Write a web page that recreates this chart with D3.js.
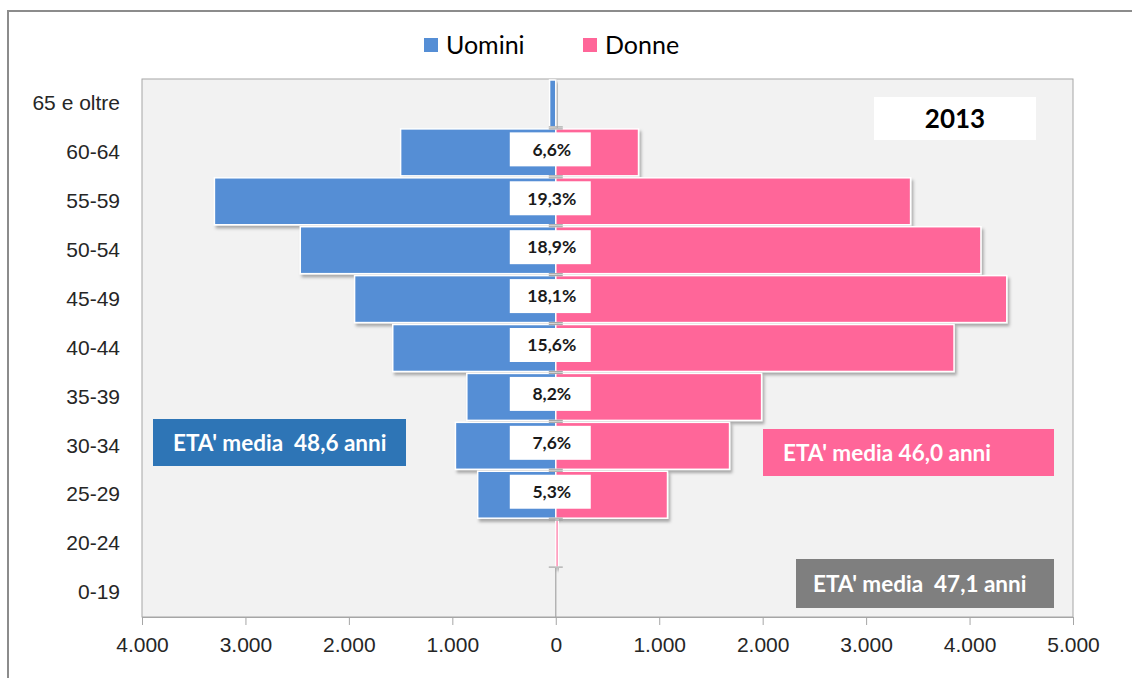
<!DOCTYPE html>
<html>
<head>
<meta charset="utf-8">
<script src="https://cdn.jsdelivr.net/npm/d3@7/dist/d3.min.js"></script>
<style>
  body { margin: 0; background: #fff; }
  svg { display: block; font-family: Lato, "Open Sans", sans-serif; }
</style>
</head>
<body>
<div id="chart"></div>
<script>
// age classes, top to bottom
var categories = ["65 e oltre", "60-64", "55-59", "50-54", "45-49", "40-44", "35-39", "30-34", "25-29", "20-24", "0-19"];
var uomini = [60, 1500, 3300, 2470, 1945, 1576, 860, 970, 755, 0, 0];
var donne = [0, 800, 3430, 4110, 4360, 3850, 1990, 1680, 1080, 25, 0];
var percentuali = ["", "6,6%", "19,3%", "18,9%", "18,1%", "15,6%", "8,2%", "7,6%", "5,3%", "", ""];
var xTicks = [-4000, -3000, -2000, -1000, 0, 1000, 2000, 3000, 4000, 5000];
var anno = "2013";
var etaUomini = "ETA' media  48,6 anni";
var etaDonne = "ETA' media 46,0 anni";
var etaTotale = "ETA' media  47,1 anni";

var width = 1132, height = 678;
var plot = {left: 142, right: 1073, top: 79, bottom: 617};
var blue = "#558ed5", pink = "#ff6699";

var svg = d3.select("#chart").append("svg")
    .attr("width", width)
    .attr("height", height);

// drop shadow like the excel bars
var defs = svg.append("defs");
var f = defs.append("filter").attr("id", "shadow")
    .attr("x", "-20%").attr("y", "-20%").attr("width", "140%").attr("height", "140%");
f.append("feDropShadow")
    .attr("dx", 2).attr("dy", 3).attr("stdDeviation", 1.8)
    .attr("flood-color", "#000").attr("flood-opacity", 0.3);

// outer chart frame
svg.append("rect")
    .attr("x", 8).attr("y", 11)
    .attr("width", 1140).attr("height", 700)
    .attr("fill", "#fff")
    .attr("stroke", "#8c8c8c")
    .attr("stroke-width", 2);

// plot area
svg.append("rect")
    .attr("x", plot.left).attr("y", plot.top)
    .attr("width", plot.right - plot.left).attr("height", plot.bottom - plot.top)
    .attr("fill", "#f2f2f2")
    .attr("stroke", "#a6a6a6")
    .attr("stroke-width", 1);

var x = d3.scaleLinear()
    .domain([-4000, 5000])
    .range([plot.left, plot.right]);

var y = d3.scaleBand()
    .domain(categories)
    .range([plot.top, plot.bottom])
    .paddingInner(0.04)
    .paddingOuter(0.02);

var it = d3.formatLocale({decimal: ",", thousands: ".", grouping: [3], currency: ["", "€"]});
var fmt = it.format(",.0f");

// x axis
var xAxis = svg.append("g")
    .attr("transform", "translate(0," + plot.bottom + ")")
    .call(d3.axisBottom(x)
        .tickValues(xTicks)
        .tickSize(8)
        .tickPadding(12)
        .tickFormat(function(d) { return fmt(Math.abs(d)); }));
xAxis.select(".domain").attr("stroke", "#a6a6a6");
xAxis.selectAll(".tick line").attr("stroke", "#a6a6a6");
xAxis.selectAll(".tick text")
    .attr("fill", "#262626")
    .style("font-size", "21px");

// y labels
var yAxis = svg.append("g")
    .attr("transform", "translate(" + plot.left + ",0)")
    .call(d3.axisLeft(y).tickSize(0).tickPadding(22));
yAxis.select(".domain").remove();
yAxis.selectAll(".tick text")
    .attr("fill", "#262626")
    .style("font-size", "21px");

// vertical zero line
svg.append("line")
    .attr("x1", x(0)).attr("x2", x(0))
    .attr("y1", plot.top).attr("y2", plot.bottom)
    .attr("stroke", "#a6a6a6")
    .attr("stroke-width", 1.2);

var rows = categories.map(function(c, i) {
    return {cat: c, m: uomini[i], w: donne[i], pct: percentuali[i]};
});

var bars = svg.append("g");

bars.selectAll(".bar-m")
    .data(rows.filter(function(d) { return d.m > 0; }))
    .enter()
    .append("rect")
        .attr("class", "bar-m")
        .attr("x", function(d) { return x(-d.m); })
        .attr("y", function(d) { return y(d.cat); })
        .attr("width", function(d) { return x(0) - x(-d.m); })
        .attr("height", y.bandwidth())
        .attr("fill", blue)
        .attr("stroke", "#fff")
        .attr("stroke-width", 1.5)
        .attr("filter", "url(#shadow)");

bars.selectAll(".bar-w")
    .data(rows.filter(function(d) { return d.w > 0; }))
    .enter()
    .append("rect")
        .attr("class", "bar-w")
        .attr("x", x(0))
        .attr("y", function(d) { return y(d.cat); })
        .attr("width", function(d) { return x(d.w) - x(0); })
        .attr("height", y.bandwidth())
        .attr("fill", pink)
        .attr("stroke", "#fff")
        .attr("stroke-width", 1.5)
        .attr("filter", "url(#shadow)");

// small grey caps on the zero line (error bar look)
var capRows = rows.filter(function(d) { return d.m > 0 || d.w > 0; });
var caps = [];
capRows.forEach(function(d) {
    caps.push(y(d.cat) + y.bandwidth());
    if (d.cat !== categories[0]) caps.push(y(d.cat));
});
svg.append("g").selectAll("line")
    .data(caps)
    .enter()
    .append("line")
        .attr("x1", x(0) - 7).attr("x2", x(0) + 7)
        .attr("y1", function(d) { return d; })
        .attr("y2", function(d) { return d; })
        .attr("stroke", "#a6a6a6")
        .attr("stroke-width", 1.2);

// percentage labels
var lab = svg.append("g").selectAll("g")
    .data(rows.filter(function(d) { return d.pct !== ""; }))
    .enter()
    .append("g")
        .attr("transform", function(d) {
            return "translate(" + x(0) + "," + (y(d.cat) + y.bandwidth() / 2 - 3) + ")";
        });
lab.append("rect")
    .attr("x", -46).attr("y", -17)
    .attr("width", 81).attr("height", 34)
    .attr("fill", "#fff");
lab.append("text")
    .attr("x", -4)
    .attr("dy", "0.36em")
    .attr("text-anchor", "middle")
    .style("font-size", "17.5px")
    .style("font-weight", "bold")
    .attr("fill", "#1a1a1a")
    .text(function(d) { return d.pct; });

// legend
var legend = svg.append("g");
var legendItems = [{name: "Uomini", color: blue, x: 424}, {name: "Donne", color: pink, x: 583}];
legendItems.forEach(function(l) {
    legend.append("rect")
        .attr("x", l.x).attr("y", 38)
        .attr("width", 14).attr("height", 14)
        .attr("fill", l.color);
    legend.append("text")
        .attr("x", l.x + 22).attr("y", 45)
        .attr("dy", "0.36em")
        .style("font-size", "25px")
        .attr("fill", "#000")
        .text(l.name);
});

// year box
svg.append("rect")
    .attr("x", 874).attr("y", 97)
    .attr("width", 162).attr("height", 43)
    .attr("fill", "#fff");
svg.append("text")
    .attr("x", 955).attr("y", 119)
    .attr("dy", "0.36em")
    .attr("text-anchor", "middle")
    .style("font-size", "26px")
    .style("font-weight", "bold")
    .attr("fill", "#000")
    .text(anno);

// average age boxes
function ageBox(bx, by, bw, bh, fill, tx, txt) {
    svg.append("rect")
        .attr("x", bx).attr("y", by)
        .attr("width", bw).attr("height", bh)
        .attr("fill", fill);
    svg.append("text")
        .attr("x", tx).attr("y", by + bh / 2)
        .attr("dy", "0.36em")
        .style("font-size", "22.5px")
        .style("font-weight", "bold")
        .style("white-space", "pre")
        .attr("fill", "#fff")
        .text(txt);
}
ageBox(153, 419, 253, 47, "#2e75b6", 173, etaUomini);
ageBox(763, 429, 291, 47, pink, 783, etaDonne);
ageBox(796, 559, 258, 49, "#7f7f7f", 813, etaTotale);
</script>
</body>
</html>
